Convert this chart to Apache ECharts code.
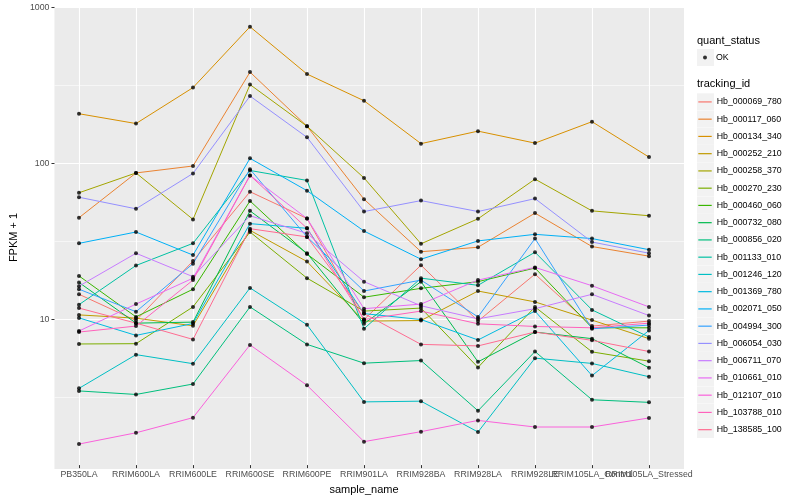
<!DOCTYPE html>
<html><head><meta charset="utf-8">
<script src="https://cdn.jsdelivr.net/npm/echarts@6/dist/echarts.min.js"></script>
<style>html,body{margin:0;padding:0;background:#fff}#c{width:800px;height:500px}</style>
</head><body><div id="c"></div>
<script>
const sampleNames = ['PB350LA','RRIM600LA','RRIM600LE','RRIM600SE','RRIM600PE','RRIM901LA','RRIM928BA','RRIM928LA','RRIM928LE','RRIM105LA_Control','RRIM105LA_Stressed'];
const trackingIds = ['Hb_000069_780','Hb_000117_060','Hb_000134_340','Hb_000252_210','Hb_000258_370','Hb_000270_230','Hb_000460_060','Hb_000732_080','Hb_000856_020','Hb_001133_010','Hb_001246_120','Hb_001369_780','Hb_002071_050','Hb_004994_300','Hb_006054_030','Hb_006711_070','Hb_010661_010','Hb_012107_010','Hb_103788_010','Hb_138585_100'];
const seriesColors = ['#F8766D','#EA8331','#D89000','#C09B00','#A3A500','#7CAE00','#39B600','#00BB4E','#00BF7D','#00C1A3','#00BFC4','#00BAE0','#00B0F6','#35A2FF','#9590FF','#C77CFF','#E76BF3','#FA62DB','#FF62BC','#FF6C91'];

// FPKM + 1 per sample (order of sampleNames)
const hb_000069_780 = [14.0, 9.47, 23.0, 64.5, 43.3, 9.61, 21.6, 9.39, 18.9, 8.72, 9.39];
const hb_000117_060 = [43.8, 85.3, 94.6, 383, 171, 57.7, 26.4, 28.2, 46.9, 28.5, 24.7];
const hb_000134_340 = [206, 178, 304, 752, 372, 250, 132, 159, 133, 183, 108];
const hb_000252_210 = [10.3, 9.81, 8.76, 36.3, 22.8, 9.39, 9.47, 14.7, 12.5, 9.53, 7.23];
const hb_000258_370 = [63.5, 85.3, 42.7, 318, 171, 79.2, 29.7, 43.1, 77.8, 48.5, 45.1];
const hb_000270_230 = [6.68, 6.71, 11.6, 35.4, 17.8, 10.9, 11.4, 4.71, 11.6, 5.94, 5.17];
const hb_000460_060 = [18.4, 10.0, 15.1, 56.2, 25.5, 13.4, 15.3, 16.9, 20.7, 8.50, 8.50];
const hb_000732_080 = [16.7, 9.11, 9.25, 48.5, 25.8, 9.02, 16.9, 5.12, 7.98, 7.23, 4.69];
const hb_000856_020 = [3.32, 3.15, 3.68, 11.6, 6.64, 5.02, 5.22, 2.47, 5.97, 2.91, 2.80];
const hb_001133_010 = [12.0, 21.5, 29.9, 88.5, 76.3, 8.38, 17.8, 16.0, 26.2, 11.1, 7.41];
const hb_001246_120 = [3.45, 5.70, 4.98, 15.4, 8.89, 2.82, 2.85, 1.80, 5.41, 5.00, 4.10];
const hb_001369_780 = [9.85, 7.59, 9.06, 40.1, 37.4, 10.5, 9.61, 7.09, 10.9, 4.17, 8.17];
const hb_002071_050 = [29.9, 35.4, 25.1, 106, 65.5, 35.9, 23.6, 31.0, 34.2, 32.1, 27.2];
const hb_004994_300 = [15.1, 10.8, 22.1, 90.2, 32.9, 14.7, 17.3, 10.0, 32.1, 8.38, 8.85];
const hb_006054_030 = [59.4, 50.0, 84.7, 268, 145, 48.0, 56.5, 48.0, 58.2, 30.5, 25.8];
const hb_006711_070 = [15.8, 25.8, 18.2, 45.1, 34.7, 16.9, 11.8, 9.71, 11.3, 14.0, 10.2];
const hb_010661_010 = [8.10, 12.1, 17.8, 82.2, 43.3, 11.3, 12.1, 17.3, 20.9, 15.9, 11.6];
const hb_012107_010 = [1.505, 1.78, 2.23, 6.59, 3.61, 1.56, 1.81, 2.14, 1.94, 1.94, 2.22];
const hb_103788_010 = [7.98, 8.72, 17.3, 82.2, 37.4, 9.61, 10.9, 9.02, 8.67, 8.50, 9.11];
const hb_138585_100 = [11.4, 9.11, 7.15, 37.2, 32.9, 10.5, 6.64, 6.49, 7.98, 7.05, 5.97];

const yRange = [1.1, 1025];
const minorBreaks = [3.162, 31.62, 316.2];

const values = [hb_000069_780, hb_000117_060, hb_000134_340, hb_000252_210, hb_000258_370, hb_000270_230, hb_000460_060, hb_000732_080, hb_000856_020, hb_001133_010, hb_001246_120, hb_001369_780, hb_002071_050, hb_004994_300, hb_006054_030, hb_006711_070, hb_010661_010, hb_012107_010, hb_103788_010, hb_138585_100];

const FONT = '"Liberation Sans", Arial, Helvetica, sans-serif';
const chart = echarts.init(document.getElementById('c'), null, {renderer: 'canvas'});

const lineSeries = trackingIds.map((id, k) => ({
  name: id, type: 'line', xAxisIndex: 1, yAxisIndex: 1, data: values[k],
  showSymbol: false, symbol: 'none', silent: true, z: 3,
  lineStyle: {width: 1, color: seriesColors[k]}, itemStyle: {color: seriesColors[k]}
}));
const pointData = [];
values.forEach(v => v.forEach((y, i) => pointData.push([i, y])));

const keyBoxes = [{type: 'rect', shape: {x: 697, y: 49, width: 17, height: 17}, style: {fill: '#F2F2F2'}, z: 0}]
  .concat(trackingIds.map((id, k) => ({type: 'rect', shape: {x: 697, y: 93.3 + k * 17.25, width: 17, height: 17}, style: {fill: '#F2F2F2'}, z: 0})));

chart.setOption({
  animation: false,
  backgroundColor: '#fff',
  textStyle: {fontFamily: FONT},
  title: [
    {text: 'quant_status', left: 697, top: 35, padding: 0, textStyle: {fontSize: 11, fontWeight: 'normal', color: '#000', fontFamily: FONT}},
    {text: 'tracking_id', left: 697, top: 78.5, padding: 0, textStyle: {fontSize: 11, fontWeight: 'normal', color: '#000', fontFamily: FONT}}
  ],
  graphic: keyBoxes,
  legend: [
    {data: ['OK'], left: 703, top: 49, padding: 0, orient: 'vertical', icon: 'circle', itemWidth: 4, itemHeight: 4, selectedMode: false,
     textStyle: {fontSize: 8.8, color: '#000', fontFamily: FONT, lineHeight: 17, padding: [0, 0, 0, 4]}},
    {data: trackingIds, left: 698.3, top: 93.3, padding: 0, orient: 'vertical', icon: 'rect', itemWidth: 13.4, itemHeight: 1.2, itemGap: 0, selectedMode: false,
     textStyle: {fontSize: 8.8, color: '#000', fontFamily: FONT, lineHeight: 17.25}}
  ],
  grid: [
    {left: 45, right: 116, top: 6, bottom: 31, show: true, backgroundColor: '#EBEBEB', borderWidth: 0},
    {left: 79, right: 151, top: 6, bottom: 31, show: false}
  ],
  xAxis: [
    {type: 'value', gridIndex: 0, min: 0, max: 1, show: false},
    {type: 'category', gridIndex: 1, data: sampleNames, boundaryGap: false,
     axisLine: {show: false},
     axisTick: {show: true, length: 3, alignWithLabel: true, interval: 0, lineStyle: {color: '#333', width: 1}},
     axisLabel: {interval: 0, color: '#4D4D4D', fontSize: 8.8, fontFamily: FONT, margin: 5},
     splitLine: {show: true, interval: 0, lineStyle: {color: '#fff', width: 1.1}},
     name: 'sample_name', nameLocation: 'middle', nameGap: 14,
     nameTextStyle: {color: '#000', fontSize: 11, fontFamily: FONT}}
  ],
  yAxis: [
    {type: 'log', logBase: 10, gridIndex: 0, min: yRange[0], max: yRange[1],
     axisLine: {show: false},
     axisTick: {show: true, length: 3, lineStyle: {color: '#333', width: 1}},
     axisLabel: {color: '#4D4D4D', fontSize: 8.8, fontFamily: FONT, margin: 5, showMinLabel: false, showMaxLabel: false,
                 formatter: v => String(Math.round(v))},
     splitLine: {show: true, lineStyle: {color: '#fff', width: 1.1}},
     name: 'FPKM + 1', nameLocation: 'middle', nameGap: 28,
     nameTextStyle: {color: '#000', fontSize: 11, fontFamily: FONT}},
    {type: 'log', logBase: 10, gridIndex: 1, min: yRange[0], max: yRange[1], show: false}
  ],
  series: [
    {type: 'line', name: '_minor', xAxisIndex: 0, yAxisIndex: 0, data: [], z: 1, silent: true,
     markLine: {silent: true, symbol: 'none', animation: false, z: 1, label: {show: false},
                lineStyle: {color: '#fff', width: 0.55, type: 'solid'},
                data: minorBreaks.map(v => ({yAxis: v}))}}
  ].concat(lineSeries).concat([
    {type: 'scatter', name: 'OK', xAxisIndex: 1, yAxisIndex: 1, data: pointData, symbol: 'circle', symbolSize: 4,
     itemStyle: {color: '#000'}, silent: true, z: 4}
  ])
});
</script></body></html>
